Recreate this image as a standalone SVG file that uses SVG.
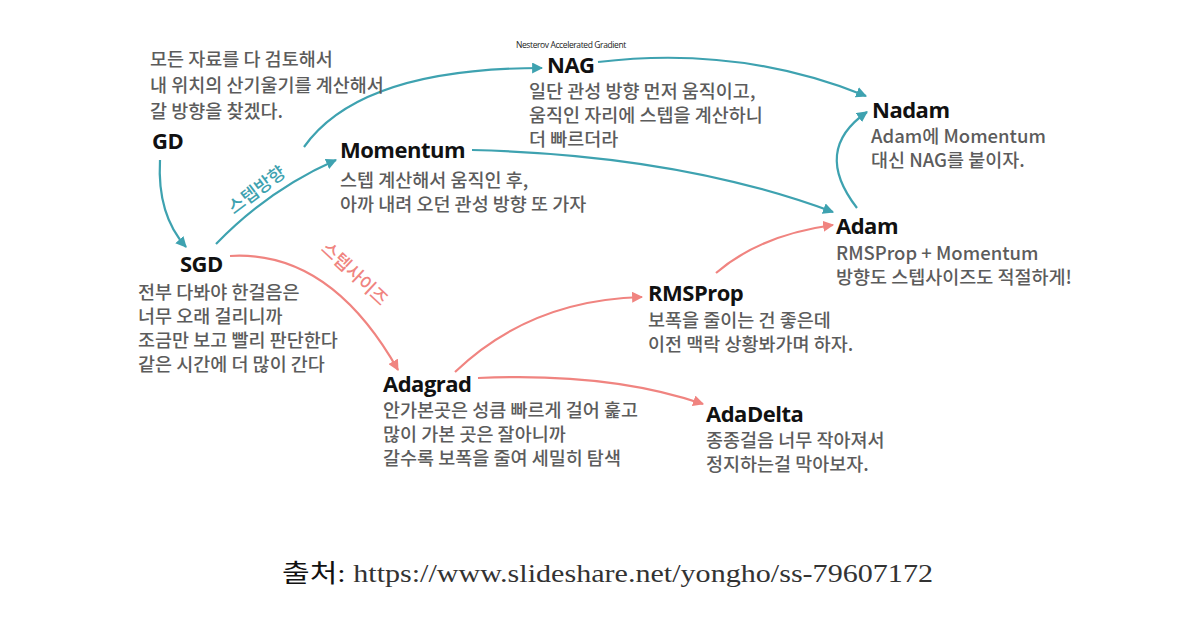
<svg xmlns="http://www.w3.org/2000/svg" width="1177" height="623" viewBox="0 0 1177 623">
<style>
.h{font-family:"Open Sans","Noto Sans CJK KR",sans-serif;font-weight:bold;font-size:22px;fill:#111;letter-spacing:-0.5px}
.d{font-family:"Noto Sans CJK KR","Noto Sans",sans-serif;font-weight:500;font-size:18.5px;fill:#5c5c5c}
.t{fill:none;stroke:#3ea2b0;stroke-width:2.2}
.s{fill:none;stroke:#f08480;stroke-width:2.2}
.lt{font-family:"Noto Sans CJK KR",sans-serif;font-weight:500;font-size:18px;fill:#3ea2b0}
.ls{font-family:"Noto Sans CJK KR",sans-serif;font-weight:500;font-size:18px;fill:#f08480}
</style>
<defs>
<marker id="at" viewBox="0 0 10 10" refX="9" refY="5" markerWidth="5" markerHeight="5" orient="auto" markerUnits="strokeWidth"><path d="M0,0 L10,5 L0,10 z" fill="#3ea2b0"/></marker>
<marker id="as" viewBox="0 0 10 10" refX="9" refY="5" markerWidth="5" markerHeight="5" orient="auto" markerUnits="strokeWidth"><path d="M0,0 L10,5 L0,10 z" fill="#f08480"/></marker>
</defs>
<rect width="1177" height="623" fill="#fff"/>
<g id="connectors">
<path class="t" d="M160,160 Q157,215 186,247" marker-end="url(#at)"/>
<path class="t" d="M216,244 Q268,190 336,160" marker-end="url(#at)"/>
<path class="t" d="M304,147 Q360,68 542,68" marker-end="url(#at)"/>
<path class="t" d="M598,62 Q740,45 866,96" marker-end="url(#at)"/>
<path class="t" d="M472,150 Q680,155 833,212" marker-end="url(#at)"/>
<path class="t" d="M857,208 Q812,150 867,112" marker-end="url(#at)"/>
<path class="s" d="M230,256 Q330,250 398,370" marker-end="url(#as)"/>
<path class="s" d="M455,372 Q530,300 642,297" marker-end="url(#as)"/>
<path class="s" d="M716,273 Q760,235 833,225" marker-end="url(#as)"/>
<path class="s" d="M478,378 Q610,372 703,404" marker-end="url(#as)"/>
<text class="lt" transform="translate(234,215) rotate(-37)">스텝방향</text>
<text class="ls" transform="translate(320,250) rotate(43)">스텝사이즈</text>
</g>
<g id="GD">
<text class="d" x="150" y="66">모든 자료를 다 검토해서</text>
<text class="d" x="150" y="92">내 위치의 산기울기를 계산해서</text>
<text class="d" x="150" y="118">갈 방향을 찾겠다.</text>
<text class="h" x="152" y="149">GD</text>
</g>
<g id="Momentum">
<text class="h" x="340" y="158">Momentum</text>
<text class="d" x="340" y="187">스텝 계산해서 움직인 후,</text>
<text class="d" x="340" y="211">아까 내려 오던 관성 방향 또 가자</text>
</g>
<g id="NAG">
<text x="516" y="48" style="font-family:'Open Sans',sans-serif;font-size:8.5px;fill:#222;letter-spacing:-0.4px">Nesterov Accelerated Gradient</text>
<text class="h" x="547" y="73">NAG</text>
<text class="d" x="529" y="98">일단 관성 방향 먼저 움직이고,</text>
<text class="d" x="529" y="122">움직인 자리에 스텝을 계산하니</text>
<text class="d" x="529" y="146">더 빠르더라</text>
</g>
<g id="Nadam">
<text class="h" x="872" y="118">Nadam</text>
<text class="d" x="871" y="143">Adam에 Momentum</text>
<text class="d" x="871" y="167">대신 NAG를 붙이자.</text>
</g>
<g id="Adam">
<text class="h" x="836" y="234">Adam</text>
<text class="d" x="836" y="260">RMSProp + Momentum</text>
<text class="d" x="836" y="284">방향도 스텝사이즈도 적절하게!</text>
</g>
<g id="SGD">
<text class="h" x="180" y="272">SGD</text>
<text class="d" x="138" y="299">전부 다봐야 한걸음은</text>
<text class="d" x="138" y="323">너무 오래 걸리니까</text>
<text class="d" x="138" y="347">조금만 보고 빨리 판단한다</text>
<text class="d" x="138" y="371">같은 시간에 더 많이 간다</text>
</g>
<g id="RMSProp">
<text class="h" x="648" y="301">RMSProp</text>
<text class="d" x="648" y="327">보폭을 줄이는 건 좋은데</text>
<text class="d" x="648" y="351">이전 맥락 상황봐가며 하자.</text>
</g>
<g id="Adagrad">
<text class="h" x="383" y="392">Adagrad</text>
<text class="d" x="383" y="417">안가본곳은 성큼 빠르게 걸어 훑고</text>
<text class="d" x="383" y="441">많이 가본 곳은 잘아니까</text>
<text class="d" x="383" y="465">갈수록 보폭을 줄여 세밀히 탐색</text>
</g>
<g id="AdaDelta">
<text class="h" x="706" y="422">AdaDelta</text>
<text class="d" x="706" y="447">종종걸음 너무 작아져서</text>
<text class="d" x="706" y="471">정지하는걸 막아보자.</text>
</g>
<g id="caption">
<text x="282" y="582" textLength="651" lengthAdjust="spacingAndGlyphs" style="font-family:'Liberation Serif','Noto Sans CJK KR',serif;font-size:25px;fill:#333"><tspan fill="#111">출처:</tspan> https://www.slideshare.net/yongho/ss-79607172</text>
</g>
</svg>
